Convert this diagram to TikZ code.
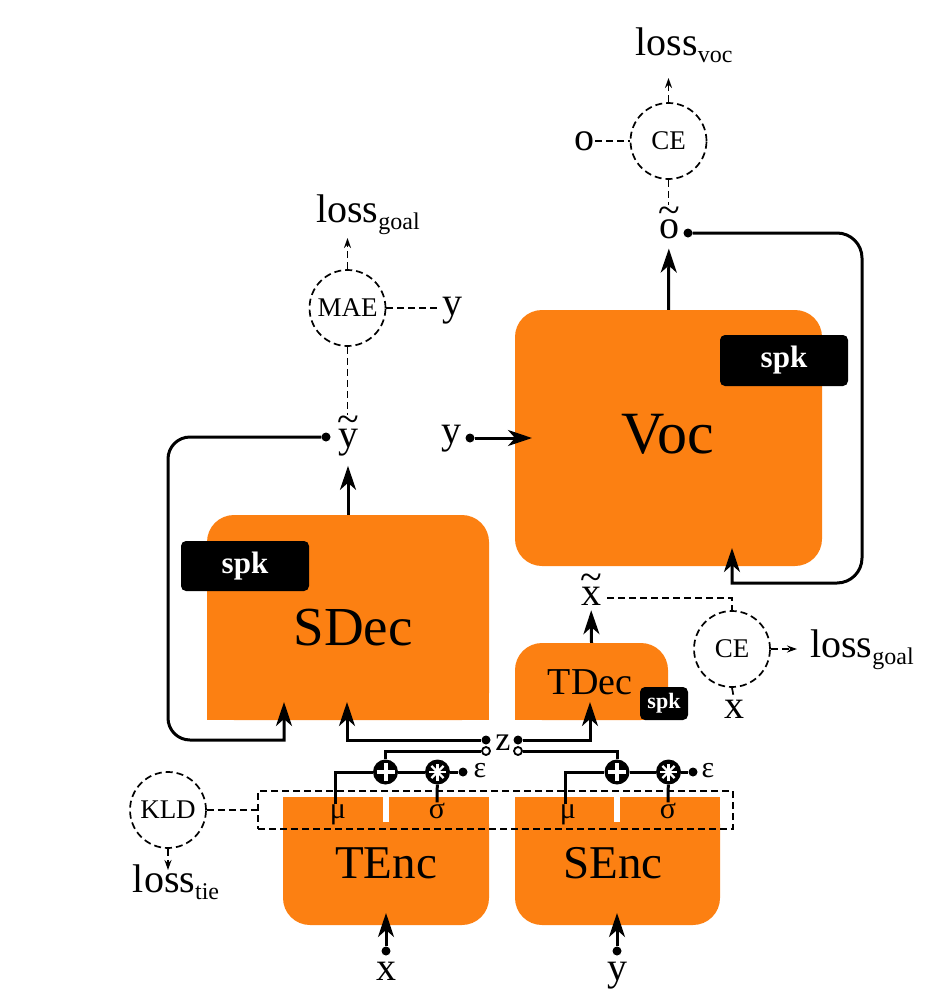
\documentclass[tikz,border=0pt]{standalone}
\usepackage{fontspec}
\setmainfont{Liberation Serif}
\usetikzlibrary{positioning, arrows.meta, calc, backgrounds}
\definecolor{encorange}{RGB}{252,128,18}
\newcommand{\fsz}[1]{\fontsize{#1}{#1}\selectfont}
\newcommand{\tildeof}[1]{\vbox{\offinterlineskip\halign{\hfil##\hfil\cr\textasciitilde\cr\noalign{\kern-4pt}#1\cr}}}
\newcommand{\lossof}[1]{loss{\fsz{24}\raisebox{-7pt}{#1}}}

\begin{document}
\begin{tikzpicture}[x=1pt,y=-1pt,>={Stealth[length=24pt,width=16pt,inset=7pt]},
  box/.style={fill=encorange,rounded corners=27pt,inner sep=0pt},
  big/.style={font=\fsz{#1},inner sep=0pt,anchor=base},
  spk/.style={fill=black,text=white,rounded corners=5pt,inner sep=0pt,font=\fsz{31}\bfseries},
  lab/.style={font=\fsz{40},inner sep=1pt},
  crc/.style={circle,draw,dash pattern=on 7pt off 4pt,line width=1.7pt,minimum size=76pt,inner sep=0pt,font=\fsz{27}},
  dsh/.style={dash pattern=on 7pt off 4pt,line width=1.7pt},
  dar/.style={dsh,-{Stealth[length=10pt,width=7pt]}},
  thk/.style={line width=3pt},
  dot/.style={circle,fill=black,inner sep=0pt,minimum size=9pt},
  odot/.style={circle,draw,fill=white,line width=1.8pt,inner sep=0pt,minimum size=8pt},
  op/.style={circle,fill=black,inner sep=0pt,minimum size=25pt}]
  \useasboundingbox (0,0) rectangle (927,1004);

  % blocks
  \node[box,minimum width=307pt,minimum height=256pt](voc) at (668.5,438){};
  \node[box,minimum width=282pt,minimum height=205pt](sdec) at (348,617.5){};
  \node[box,minimum width=153pt,minimum height=77pt](tdec) at (591.5,681.5){};
  \node[box,minimum width=206pt,minimum height=128pt](tenc) at (386,861){};
  \node[box,minimum width=205pt,minimum height=128pt](senc) at (617.5,861){};
  \begin{scope}[on background layer]
    \fill[encorange] (sdec.south west) rectangle ($(sdec.south east)+(0,-40)$);
    \fill[encorange] (tdec.south west) rectangle ($(tdec.south east)+(0,-30)$);
    \fill[encorange] (tenc.north west) rectangle ($(tenc.north east)+(0,40)$);
    \fill[encorange] (senc.north west) rectangle ($(senc.north east)+(0,40)$);
  \end{scope}
  \fill[white] (383,797) rectangle (389,822);
  \fill[white] (614,797) rectangle (620,822);

  \node[big=60](voctxt) at (668,453){Voc};
  \node[big=55](sdectxt) at (353,645){SDec};
  \node[big=38](tdectxt) at (590,694){TDec};
  \node[big=47](tenctxt) at (386,878){TEnc};
  \node[big=47](senctxt) at (613,878){SEnc};
  \node[spk,minimum width=128pt,minimum height=51pt](spkv) at (784,360.5){spk};
  \node[spk,minimum width=128pt,minimum height=50pt](spks) at (245,566){spk};
  \node[spk,minimum width=48pt,minimum height=33pt,font=\fsz{22}\bfseries](spkt) at (664,703.5){spk};

  % reparametrisation
  \node[big=30](mu1) at (338,818){μ};
  \node[big=30](sg1) at (437,818){σ};
  \node[big=30](mu2) at (568,818){μ};
  \node[big=30](sg2) at (668,818){σ};
  \node[op](pl1) at (385.5,772){};
  \node[op](st1) at (437.5,772){};
  \node[op](pl2) at (617,772){};
  \node[op](st2) at (668.5,772){};
  \foreach \p in {pl1,pl2}{
    \draw[white,line width=4pt] ([xshift=-9pt]\p.center) -- ([xshift=9pt]\p.center);
    \draw[white,line width=4pt] ([yshift=-9pt]\p.center) -- ([yshift=9pt]\p.center);}
  \foreach \s in {st1,st2}
    \foreach \a in {0,45,...,315}
      \draw[white,line width=2.4pt] (\s.center) -- ++(\a:8.5pt);
  \node[dot](ep1) at (463,772){};
  \node[dot](ep2) at (693,772){};
  \node[big=30](eps1) at (480,777){ε};
  \node[big=30](eps2) at (708,777){ε};
  \node[odot](zo1) at (486,751){};
  \node[odot](zo2) at (518,751){};
  \node[dot](zf1) at (486,740){};
  \node[dot](zf2) at (518,740){};
  \node[big=34](zlab) at (503,750){z};

  % labels
  \node[lab,anchor=base](ytl) at (348,447){\tildeof{y}};
  \node[lab,anchor=base](otl) at (669,238){\tildeof{o}};
  \node[lab,anchor=base](xtl) at (591,605){\tildeof{x}};
  \node[lab](ymae) at (452,310.5){y};
  \node[lab](yvoc) at (451,438.5){y};
  \node[lab](olab) at (584,141){o};
  \node[lab](xce) at (734,709){x};
  \node[lab](xin) at (386,971){x};
  \node[lab](yin) at (617,975.5){y};
  \node[lab,anchor=base](lossvoc) at (684,55){\lossof{voc}};
  \node[lab,anchor=base](lossg1) at (368,222){\lossof{goal}};
  \node[lab,anchor=base](lossg2) at (862,657){\lossof{goal}};
  \node[lab,anchor=base](losstie) at (176,892){\lossof{tie}};

  % loss blocks
  \node[crc](ce1) at (668.5,141){CE};
  \node[crc](mae) at (347.5,308){MAE};
  \node[crc](ce2) at (732,649){CE};
  \node[crc](kld) at (168,810){KLD};
  \node[draw,dsh,minimum width=475pt,minimum height=38pt,inner sep=0pt](lat) at (495.5,810){};

  % ends
  \node[dot](ydot) at (326,437){};
  \node[dot](odt) at (688,233){};
  \node[dot](yvdot) at (470,438){};
  \node[dot](xdot) at (386,951){};
  \node[dot](ydot2) at (617,951){};
  \coordinate (sdin1) at (284,702);
  \coordinate (sdin2) at (347,702);
  \coordinate (tdin) at (590,702);
  \coordinate (vocin) at (732,548);
  \coordinate (vocy) at (532,438);
  \coordinate (tencin) at (386,913);
  \coordinate (sencin) at (617,913);
  \coordinate (lpl) at (168,740);
  \coordinate (rpl) at (862,583);
  \coordinate (lvtip) at (668.5,78);
  \coordinate (lg1tip) at (347.5,238);
  \coordinate (lg2tip) at (797,649);
  \coordinate (lttip) at (168,870);

  % solid connectors
  \draw[thk,->,shorten >=9pt] (sdec.north) -- (ytl);
  \draw[thk,->,shorten >=9pt] (voc.north) -- (otl);
  \draw[thk,->,shorten >=4pt] (tdec.north) -- (xtl);
  \draw[thk,->] (yvdot) -- (vocy);
  \draw[thk,->] (xdot) -- (tencin);
  \draw[thk,->] (ydot2) -- (sencin);
  \draw[thk,->] (ydot) [rounded corners=22pt] -| (lpl) [sharp corners] -| (sdin1);
  \draw[thk,->] (odt) [rounded corners=25pt] -| (rpl) [sharp corners] -| (vocin);
  \draw[thk,->] (zf1) -| (sdin2);
  \draw[thk,->] (zf2) -| (tdin);
  \draw[thk] (pl1) |- (zo1);
  \draw[thk] (pl2) |- (zo2);
  \draw[thk] ([xshift=-3pt]mu1.north) |- (pl1);
  \draw[thk] ([xshift=-3pt]mu2.north) |- (pl2);
  \draw[thk] (pl1) -- (st1) -- (ep1);
  \draw[thk] (pl2) -- (st2) -- (ep2);
  \draw[thk] (sg1.north) -- (st1);
  \draw[thk] (sg2.north) -- (st2);

  % dashed connectors
  \draw[dar] (ce1) -- (lvtip);
  \draw[dsh] (olab) -- (ce1);
  \draw[dsh] (ce1.south) -- (ce1.south |- otl.north);
  \draw[dar] (mae) -- (lg1tip);
  \draw[dsh] (mae.east) -- (mae.east -| ymae.west);
  \draw[dsh] (mae.south) -- (mae.south |- ytl.north);
  \draw[dsh] ([shift={(4,-7)}]xtl.base east) -| (ce2.north);
  \draw[dar] (ce2) -- (lg2tip);
  \draw[dsh] (ce2.south) -- (xce.north);
  \draw[dsh] (kld) -- (lat.west);
  \draw[dar] (kld) -- (lttip);
\end{tikzpicture}
\end{document}
